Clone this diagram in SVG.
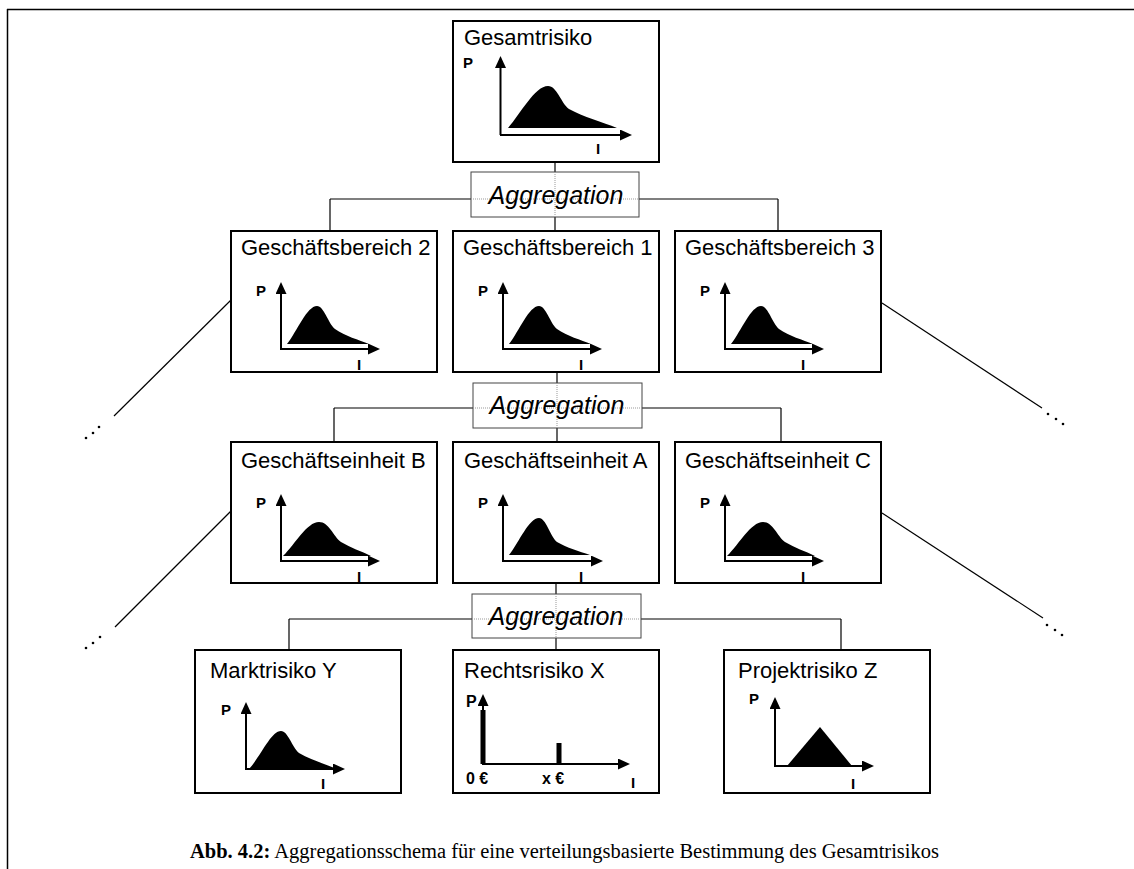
<svg xmlns="http://www.w3.org/2000/svg" width="1134" height="869" viewBox="0 0 1134 869">
<defs>
<style>
.box{fill:#fff;stroke:#000;stroke-width:2}
.agg{fill:#fff;stroke:#444;stroke-width:1}
.t{font-family:"Liberation Sans",Arial,sans-serif;font-size:22px;fill:#000}
.ag{font-family:"Liberation Sans",Arial,sans-serif;font-size:25px;font-style:italic;text-anchor:middle;fill:#000}
.l{font-family:"Liberation Sans",Arial,sans-serif;font-size:15px;font-weight:bold;fill:#000}
.e{font-family:"Liberation Sans",Arial,sans-serif;font-size:16px;font-weight:bold;fill:#000}
.ax{stroke:#000;stroke-width:2;fill:none;marker-end:url(#ah)}
.c{stroke:#000;stroke-width:1.2;fill:none}
.dt{stroke:#999;stroke-width:1;stroke-dasharray:1 1;fill:none}
.f{fill:#000;stroke:none}
.cap{font-family:"Liberation Serif","Times New Roman",serif;font-size:20px;fill:#000}
</style>
<marker id="ah" markerWidth="13" markerHeight="12" refX="8" refY="5.5" orient="auto" markerUnits="userSpaceOnUse">
<path d="M0,0 L12,5.5 L0,11 Z" fill="#000"/>
</marker>
</defs>
<rect width="1134" height="869" fill="#fff"/>
<g id="frame">
<line x1="7" y1="9.5" x2="1134" y2="9.5" stroke="#000" stroke-width="1.5"/>
<line x1="7.5" y1="9" x2="7.5" y2="869" stroke="#000" stroke-width="1.5"/>
</g>
<g id="connectors">
<line class="c" x1="555" y1="162" x2="555" y2="231"/>
<line class="c" x1="330" y1="199" x2="778" y2="199"/>
<line class="c" x1="330" y1="199" x2="330" y2="231"/>
<line class="c" x1="778" y1="199" x2="778" y2="231"/>
<line class="c" x1="557" y1="372" x2="557" y2="442"/>
<line class="c" x1="334" y1="408" x2="781" y2="408"/>
<line class="c" x1="334" y1="408" x2="334" y2="442"/>
<line class="c" x1="781" y1="408" x2="781" y2="442"/>
<line class="c" x1="556" y1="583" x2="556" y2="650"/>
<line class="c" x1="289" y1="619" x2="841" y2="619"/>
<line class="c" x1="289" y1="619" x2="289" y2="650"/>
<line class="c" x1="841" y1="619" x2="841" y2="650"/>
<line class="c" x1="231" y1="300" x2="114" y2="416"/>
<line class="c" x1="231" y1="511" x2="115" y2="627"/>
<line class="c" x1="882" y1="303" x2="1042" y2="408"/>
<line class="c" x1="882" y1="513" x2="1043" y2="618"/>
<g fill="#000">
<circle cx="86" cy="438" r="1.3"/><circle cx="93" cy="433" r="1.3"/><circle cx="99" cy="427" r="1.3"/>
<circle cx="86" cy="648" r="1.3"/><circle cx="93" cy="643" r="1.3"/><circle cx="100" cy="637" r="1.3"/>
<circle cx="1048" cy="414" r="1.3"/><circle cx="1056" cy="419" r="1.3"/><circle cx="1063" cy="424" r="1.3"/>
<circle cx="1047" cy="625" r="1.3"/><circle cx="1055" cy="630" r="1.3"/><circle cx="1062" cy="635" r="1.3"/>
</g>
</g>

<g id="gesamtrisiko">
<rect class="box" x="453" y="21" width="206" height="141"/>
<g transform="translate(453,21)">
<text class="t" x="11" y="24">Gesamtrisiko</text>
<text class="l" x="10" y="47">P</text>
<path class="f" d="M55,107 C68,92 82,65 95,65 C104,65 108,82 116,88 C130,96 150,101 164,107 Z"/>
<line class="ax" x1="47.5" y1="114" x2="47.5" y2="39"/>
<line class="ax" x1="47" y1="114" x2="175" y2="114"/>
<text class="l" x="143" y="133">I</text>
</g>
</g>

<g id="agg1">
<rect class="agg" x="471" y="172" width="168" height="45"/>
<line class="dt" x1="471" y1="199" x2="639" y2="199"/>
<line class="dt" x1="555" y1="172" x2="555" y2="217"/>
<text class="ag" x="556" y="204">Aggregation</text>
</g>

<g id="gb2">
<rect class="box" x="231" y="231" width="206" height="141"/>
<g transform="translate(231,231)">
<text class="t" x="10" y="24">Geschäftsbereich 2</text>
<text class="l" x="25" y="65">P</text>
<path class="f" d="M56,113 C66,100 76,75 86,75 C93,75 97,92 104,98 C114,105 128,109 138,113 Z"/>
<line class="ax" x1="50" y1="118" x2="50" y2="55"/>
<line class="ax" x1="49" y1="118" x2="145" y2="118"/>
<text class="l" x="126" y="139">I</text>
</g>
</g>

<g id="gb1">
<rect class="box" x="453" y="231" width="206" height="141"/>
<g transform="translate(453,231)">
<text class="t" x="10" y="24">Geschäftsbereich 1</text>
<text class="l" x="25" y="65">P</text>
<path class="f" d="M56,113 C66,100 76,75 86,75 C93,75 97,92 104,98 C114,105 128,109 138,113 Z"/>
<line class="ax" x1="50" y1="118" x2="50" y2="55"/>
<line class="ax" x1="49" y1="118" x2="145" y2="118"/>
<text class="l" x="126" y="139">I</text>
</g>
</g>

<g id="gb3">
<rect class="box" x="675" y="231" width="206" height="141"/>
<g transform="translate(675,231)">
<text class="t" x="10" y="24">Geschäftsbereich 3</text>
<text class="l" x="25" y="65">P</text>
<path class="f" d="M56,113 C66,100 76,75 86,75 C93,75 97,92 104,98 C114,105 128,109 138,113 Z"/>
<line class="ax" x1="50" y1="118" x2="50" y2="55"/>
<line class="ax" x1="49" y1="118" x2="145" y2="118"/>
<text class="l" x="126" y="139">I</text>
</g>
</g>

<g id="agg2">
<rect class="agg" x="473" y="383" width="169" height="45"/>
<line class="dt" x1="473" y1="408" x2="642" y2="408"/>
<line class="dt" x1="557" y1="383" x2="557" y2="428"/>
<text class="ag" x="557" y="414">Aggregation</text>
</g>

<g id="geB">
<rect class="box" x="231" y="442" width="206" height="141"/>
<g transform="translate(231,442)">
<text class="t" x="10" y="26">Geschäftseinheit B</text>
<text class="l" x="25" y="66">P</text>
<path class="f" d="M52,114 C64,102 76,80 88,80 C98,80 102,94 110,100 C120,106 130,109 140,114 Z"/>
<line class="ax" x1="50" y1="119" x2="50" y2="56"/>
<line class="ax" x1="49" y1="119" x2="145" y2="119"/>
<text class="l" x="126" y="140">I</text>
</g>
</g>

<g id="geA">
<rect class="box" x="453" y="442" width="206" height="141"/>
<g transform="translate(453,442)">
<text class="t" x="11" y="26">Geschäftseinheit A</text>
<text class="l" x="25" y="66">P</text>
<path class="f" d="M56,113 C66,100 76,76 86,76 C93,76 97,94 104,100 C114,106 126,109 137,113 Z"/>
<line class="ax" x1="50" y1="119" x2="50" y2="56"/>
<line class="ax" x1="49" y1="119" x2="146" y2="119"/>
<text class="l" x="126" y="140">I</text>
</g>
</g>

<g id="geC">
<rect class="box" x="675" y="442" width="206" height="141"/>
<g transform="translate(675,442)">
<text class="t" x="10" y="26">Geschäftseinheit C</text>
<text class="l" x="25" y="66">P</text>
<path class="f" d="M52,114 C64,102 76,80 88,80 C98,80 102,94 110,100 C120,106 130,109 140,114 Z"/>
<line class="ax" x1="50" y1="119" x2="50" y2="56"/>
<line class="ax" x1="49" y1="119" x2="145" y2="119"/>
<text class="l" x="126" y="140">I</text>
</g>
</g>

<g id="agg3">
<rect class="agg" x="472" y="594" width="169" height="44"/>
<line class="dt" x1="472" y1="619" x2="641" y2="619"/>
<line class="dt" x1="556" y1="594" x2="556" y2="638"/>
<text class="ag" x="556" y="625">Aggregation</text>
</g>

<g id="marktrisiko">
<rect class="box" x="195" y="650" width="206" height="143"/>
<g transform="translate(195,650)">
<text class="t" x="15" y="28">Marktrisiko Y</text>
<text class="l" x="26" y="65">P</text>
<path class="f" d="M54,119 C66,106 76,81 86,81 C93,81 97,97 104,103 C116,110 130,114 142,119 Z"/>
<line class="ax" x1="51" y1="119" x2="51" y2="56"/>
<line class="ax" x1="50" y1="119" x2="146" y2="119"/>
<text class="l" x="126" y="139">I</text>
</g>
</g>

<g id="rechtsrisiko">
<rect class="box" x="453" y="650" width="206" height="143"/>
<g transform="translate(453,650)">
<text class="t" x="11" y="28">Rechtsrisiko X</text>
<text class="e" x="13" y="57">P</text>
<rect class="f" x="27.5" y="60" width="5" height="54"/>
<rect class="f" x="103.5" y="93" width="5" height="21"/>
<line class="ax" x1="30" y1="114" x2="30" y2="48"/>
<line class="ax" x1="29" y1="114" x2="173" y2="114"/>
<text class="e" x="13" y="134">0 €</text>
<text class="e" x="89" y="134">x €</text>
<text class="l" x="178" y="138">I</text>
</g>
</g>

<g id="projektrisiko">
<rect class="box" x="724" y="650" width="206" height="143"/>
<g transform="translate(724,650)">
<text class="t" x="14" y="28">Projektrisiko Z</text>
<text class="l" x="25" y="54">P</text>
<path class="f" d="M63,116 L96,77 L128,116 Z"/>
<line class="ax" x1="51" y1="116" x2="51" y2="51"/>
<line class="ax" x1="50" y1="116" x2="146" y2="116"/>
<text class="l" x="127" y="139">I</text>
</g>
</g>

<g id="caption">
<text class="cap" x="190" y="858" textLength="749" lengthAdjust="spacingAndGlyphs"><tspan font-weight="bold">Abb. 4.2:</tspan> Aggregationsschema für eine verteilungsbasierte Bestimmung des Gesamtrisikos</text>
</g>
</svg>
